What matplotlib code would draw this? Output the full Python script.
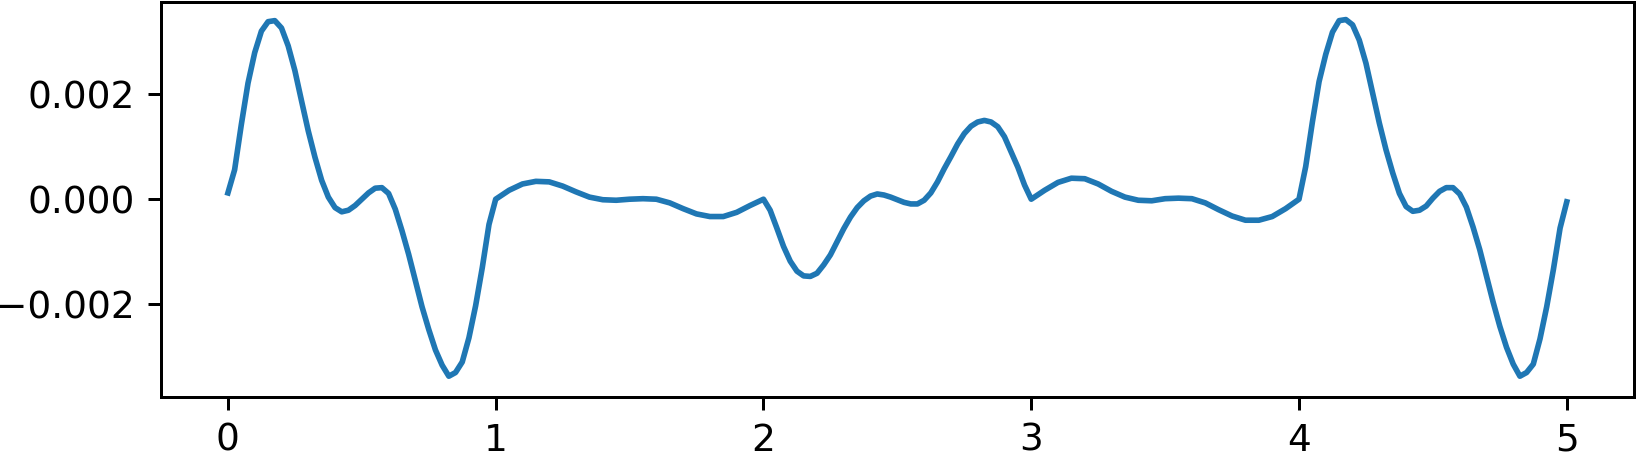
import numpy as np
import matplotlib.pyplot as plt

# values (y in units of 1e-3)
x_a = np.arange(0, 41) * 0.025          # 0 .. 1
y_a = [0.12, 0.56, 1.42, 2.21, 2.79, 3.20, 3.38, 3.40, 3.26, 2.92,
       2.45, 1.87, 1.30, 0.80, 0.36, 0.04, -0.16, -0.24, -0.21, -0.12,
       0.00, 0.12, 0.21, 0.22, 0.11, -0.19, -0.60, -1.05, -1.55, -2.05,
       -2.48, -2.87, -3.16, -3.37, -3.30, -3.10, -2.64, -2.03, -1.30, -0.48,
       0.00]

x_b = 1 + np.arange(1, 20) * 0.05       # 1.05 .. 1.95
y_b = [0.17, 0.29, 0.34, 0.33, 0.25, 0.14, 0.04, -0.01, -0.02, 0.00,
       0.01, 0.00, -0.07, -0.18, -0.28, -0.33, -0.33, -0.25, -0.12]

x_c = 2 + np.arange(0, 41) * 0.025      # 2 .. 3
y_c = [0.00, -0.21, -0.55, -0.90, -1.18, -1.37, -1.46, -1.47, -1.41, -1.25,
       -1.06, -0.81, -0.56, -0.34, -0.16, -0.03, 0.06, 0.10, 0.08, 0.04,
       -0.01, -0.06, -0.09, -0.09, -0.02, 0.12, 0.33, 0.58, 0.81, 1.05,
       1.25, 1.39, 1.47, 1.50, 1.47, 1.38, 1.19, 0.90, 0.61, 0.27,
       0.00]

x_d = 3 + np.arange(1, 20) * 0.05       # 3.05 .. 3.95
y_d = [0.17, 0.32, 0.40, 0.39, 0.29, 0.15, 0.04, -0.02, -0.03, 0.01,
       0.02, 0.01, -0.07, -0.20, -0.32, -0.40, -0.40, -0.33, -0.18]

x_e = 4 + np.arange(0, 41) * 0.025      # 4 .. 5
y_e = [0.00, 0.62, 1.47, 2.24, 2.76, 3.18, 3.40, 3.42, 3.32, 3.03,
       2.59, 2.02, 1.45, 0.94, 0.50, 0.11, -0.14, -0.23, -0.21, -0.13,
       0.02, 0.15, 0.22, 0.22, 0.10, -0.15, -0.53, -0.96, -1.46, -1.96,
       -2.42, -2.82, -3.14, -3.37, -3.30, -3.14, -2.66, -2.05, -1.34, -0.55,
       -0.05]

x = np.concatenate([x_a, x_b, x_c, x_d, x_e])
y = np.concatenate([y_a, y_b, y_c, y_d, y_e]) * 1e-3

fig = plt.figure(figsize=(1636 / 270, 453 / 270), dpi=270)
ax = fig.add_axes([0.0984, 0.1243, 0.9002, 0.8719])
ax.plot(x, y, color='#1f77b4', lw=1.5)
ax.set_xlim(-0.25, 5.25)
ax.set_ylim(-0.00376, 0.00376)
ax.set_yticks([-0.002, 0.0, 0.002])
ax.set_yticklabels(['\u22120.002', '0.000', '0.002'])

plt.savefig('out.png', dpi=270)
